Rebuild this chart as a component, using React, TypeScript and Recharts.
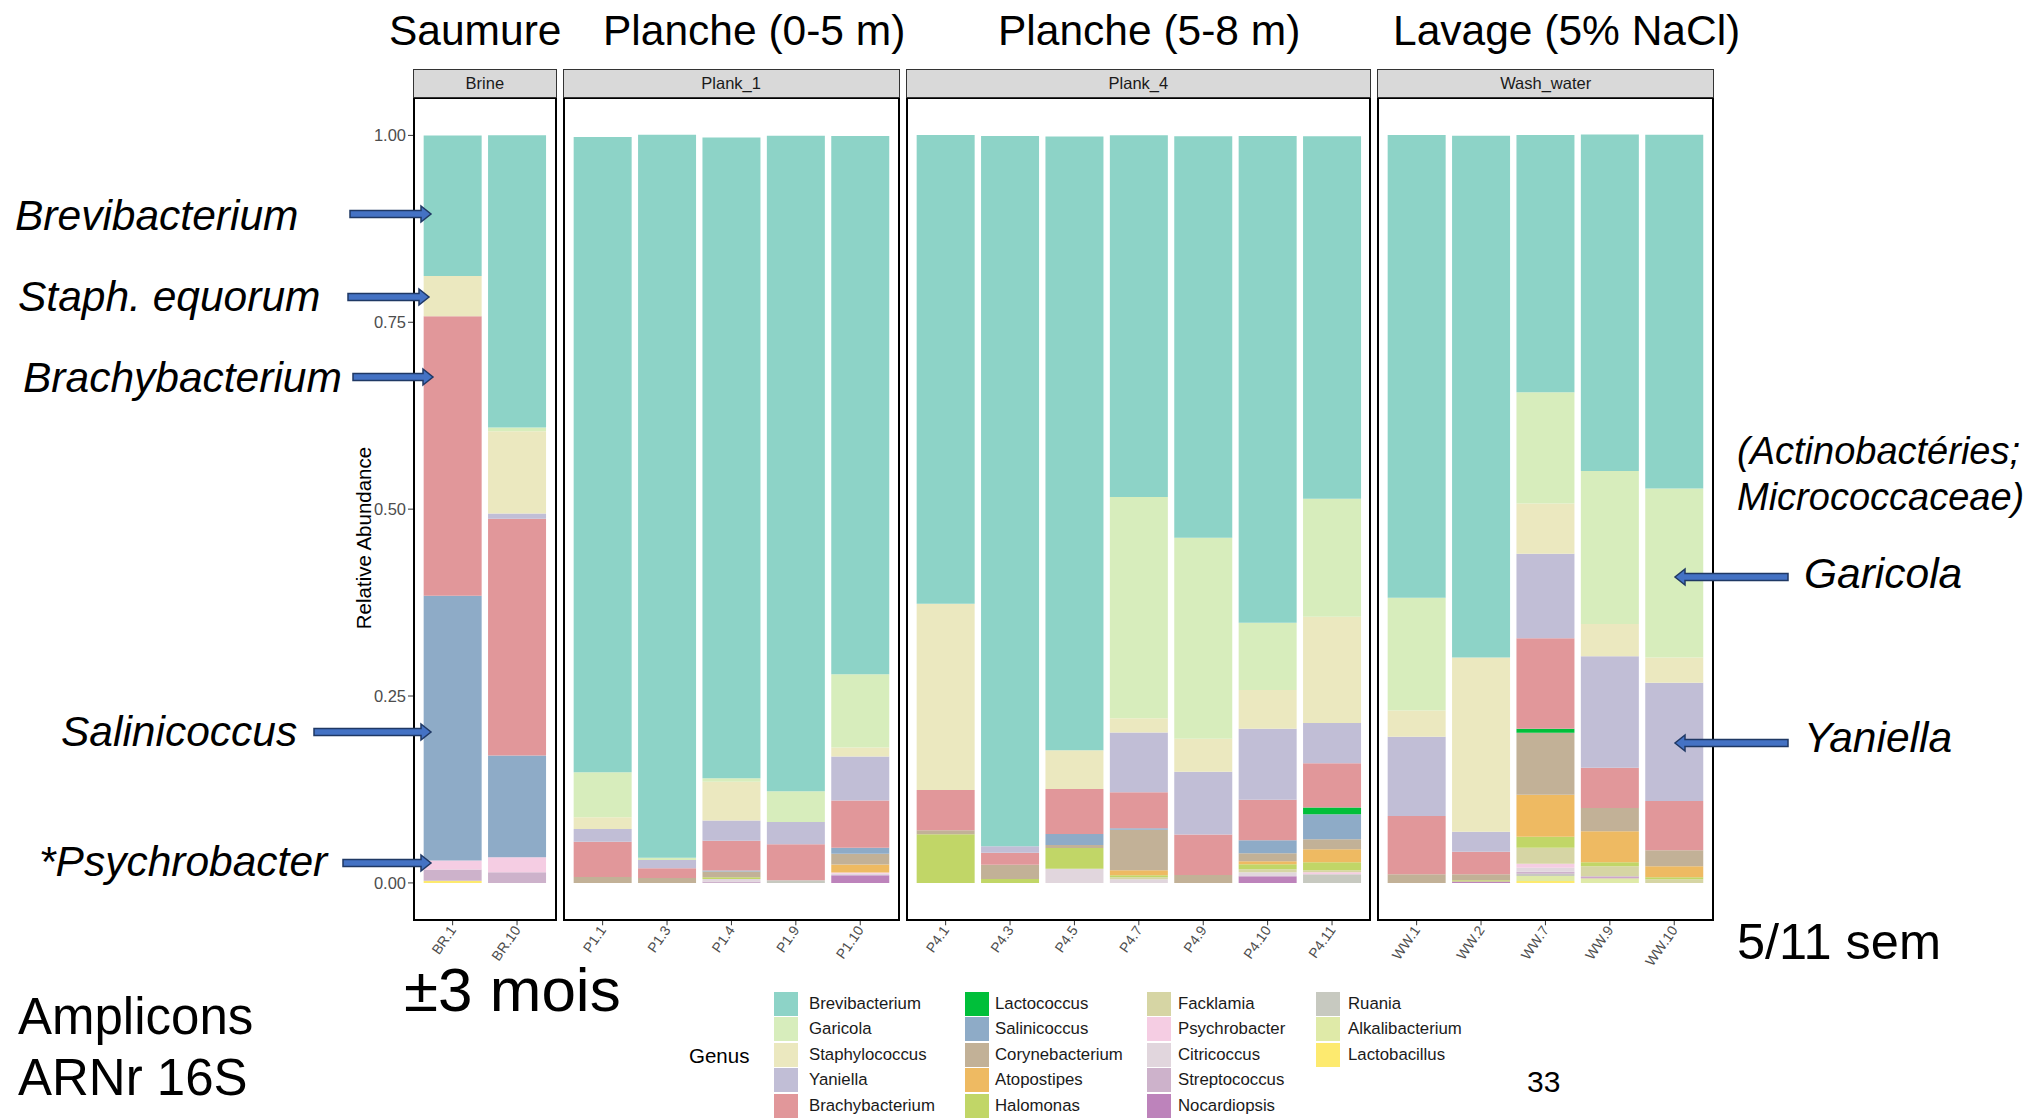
import React from 'react';
import { BarChart, Bar, XAxis, YAxis } from 'recharts';

// genus order = legend order (first one sits on top of each stack)
const genera = [
  'Brevibacterium', 'Garicola', 'Staphylococcus', 'Yaniella', 'Brachybacterium',
  'Lactococcus', 'Salinicoccus', 'Corynebacterium', 'Atopostipes', 'Halomonas',
  'Facklamia', 'Psychrobacter', 'Citricoccus', 'Streptococcus', 'Nocardiopsis',
  'Ruania', 'Alkalibacterium', 'Lactobacillus',
];
const genusColors = [
  '#8dd3c7', '#d7edbc', '#ebe8bf', '#c1bed6', '#e1979a',
  '#00bf3a', '#8eabc7', '#c2b197', '#eeba62', '#c1d667',
  '#d6d5a4', '#f5cde3', '#e1d6dd', '#cdb2cb', '#bd83bb',
  '#c7c9c0', '#dfeaa8', '#fdea6f',
];

const samples = [
  'BR.1', 'BR.10',
  'P1.1', 'P1.3', 'P1.4', 'P1.9', 'P1.10',
  'P4.1', 'P4.3', 'P4.5', 'P4.7', 'P4.9', 'P4.10', 'P4.11',
  'WW.1', 'WW.2', 'WW.7', 'WW.9', 'WW.10',
];
const panelNames = ['Brine', 'Plank_1', 'Plank_4', 'Wash_water'];
const panelSamples = [
  ['BR.1', 'BR.10'],
  ['P1.1', 'P1.3', 'P1.4', 'P1.9', 'P1.10'],
  ['P4.1', 'P4.3', 'P4.5', 'P4.7', 'P4.9', 'P4.10', 'P4.11'],
  ['WW.1', 'WW.2', 'WW.7', 'WW.9', 'WW.10'],
];
const yTicks = [0, 0.25, 0.5, 0.75, 1];

// relative abundance per genus, in the order of `samples`
const brevibacterium = [0.188, 0.391, 0.850, 0.967, 0.857, 0.877, 0.720, 0.627, 0.950, 0.821, 0.484, 0.537, 0.651, 0.485, 0.619, 0.698, 0.344, 0.450, 0.473];
const garicola = [0, 0.005, 0.060, 0.003, 0.0045, 0.041, 0.098, 0, 0, 0, 0.296, 0.269, 0.090, 0.158, 0.151, 0, 0.149, 0.205, 0.226];
const staphylococcus = [0.054, 0.110, 0.016, 0, 0.052, 0, 0.012, 0.249, 0, 0.052, 0.019, 0.044, 0.052, 0.142, 0.035, 0.233, 0.067, 0.043, 0.034];
const yaniella = [0, 0.007, 0.017, 0.011, 0.027, 0.030, 0.059, 0, 0.009, 0, 0.080, 0.084, 0.095, 0.054, 0.106, 0.027, 0.113, 0.149, 0.158];
const brachybacterium = [0.374, 0.317, 0.047, 0.013, 0.040, 0.048, 0.063, 0.054, 0.016, 0.060, 0.048, 0.054, 0.054, 0.059, 0.078, 0.030, 0.121, 0.054, 0.066];
const lactococcus = [0, 0, 0, 0, 0, 0, 0, 0, 0, 0, 0, 0, 0, 0.009, 0, 0, 0.0054, 0, 0];
const salinicoccus = [0.354, 0.136, 0, 0, 0.0013, 0, 0.008, 0, 0, 0.0147, 0.0022, 0, 0.0174, 0.0335, 0, 0, 0, 0, 0];
const corynebacterium = [0, 0, 0.008, 0.0067, 0.0076, 0, 0.0143, 0.0054, 0.0188, 0.004, 0.054, 0.0107, 0.0107, 0.0134, 0.0116, 0.008, 0.083, 0.031, 0.0214];
const atopostipes = [0, 0, 0, 0, 0, 0, 0.0107, 0, 0, 0, 0.0067, 0, 0.004, 0.0174, 0, 0, 0.0563, 0.0415, 0.0147];
const halomonas = [0, 0, 0, 0, 0.0022, 0, 0, 0.065, 0.0054, 0.028, 0.0027, 0, 0.0067, 0.0107, 0, 0.0018, 0.0147, 0.0054, 0.0027];
const facklamia = [0, 0, 0, 0, 0, 0, 0, 0, 0, 0, 0.0027, 0, 0.004, 0.0027, 0, 0, 0.0214, 0.0134, 0.0049];
const psychrobacter = [0.012, 0.020, 0, 0, 0, 0, 0.0018, 0, 0, 0, 0, 0, 0, 0.0027, 0, 0, 0.0054, 0, 0];
const citricoccus = [0, 0, 0, 0, 0.0036, 0, 0.002, 0, 0, 0.0188, 0.0049, 0, 0.0054, 0, 0, 0, 0.0054, 0, 0];
const streptococcus = [0.015, 0.0143, 0, 0, 0.0018, 0, 0, 0, 0, 0, 0, 0, 0, 0, 0, 0, 0.0027, 0.0013, 0];
const nocardiopsis = [0, 0, 0, 0, 0, 0, 0.0103, 0, 0, 0, 0, 0, 0.0089, 0, 0, 0.0018, 0, 0.0013, 0];
const ruania = [0, 0, 0, 0, 0, 0.0036, 0, 0, 0, 0, 0, 0, 0, 0.0116, 0, 0, 0.0027, 0, 0];
const alkalibacterium = [0, 0, 0, 0, 0, 0, 0, 0, 0, 0, 0, 0, 0, 0, 0, 0, 0.0067, 0.0063, 0];
const lactobacillus = [0.003, 0, 0, 0, 0, 0, 0, 0, 0, 0, 0, 0, 0, 0, 0, 0, 0.0027, 0, 0];

const series = [
  brevibacterium, garicola, staphylococcus, yaniella, brachybacterium,
  lactococcus, salinicoccus, corynebacterium, atopostipes, halomonas,
  facklamia, psychrobacter, citricoccus, streptococcus, nocardiopsis,
  ruania, alkalibacterium, lactobacillus,
];

// layout (px)
const U = 64.4;            // width of one sample slot
const PLOT_TOP = 97.7;
const PLOT_H = 822.3;
const STRIP_TOP = 69.3;
const STRIP_H = 28.4;
const FIRST_LEFT = 414;
const PANEL_GAP = 8;
const Y_AXIS_W = 60;
const X_AXIS_H = 80;
const FONT = '"Liberation Sans", Arial, Helvetica, sans-serif';

const rowsFor = (names: string[]) =>
  names.map((name) => {
    const idx = samples.indexOf(name);
    const row: any = { name };
    genera.forEach((g, gi) => { row[g] = series[gi][idx]; });
    return row;
  });

const SampleTick = (props: any) => {
  const { x, y, payload } = props;
  return (
    <g transform={`translate(${x},${y})`}>
      <text x={0} y={0} dy={5} textAnchor="end" transform="rotate(-55)"
        fontSize={14} fill="#4d4d4d" fontFamily={FONT}>
        {payload.value}
      </text>
    </g>
  );
};

function Panel({ idx, left }: { idx: number; left: number }) {
  const names = panelSamples[idx];
  const plotW = (names.length + 0.2) * U;
  const withY = idx === 0;
  const chartW = plotW + (withY ? Y_AXIS_W : 0);
  const chartLeft = left - (withY ? Y_AXIS_W : 0);
  const stackOrder = genera.map((g, i) => i).reverse();

  return (
    <>
      <div style={{ position: 'absolute', left: chartLeft, top: PLOT_TOP }}>
        <BarChart width={chartW} height={PLOT_H + X_AXIS_H} data={rowsFor(names)}
          margin={{ top: 0, right: 0, bottom: 0, left: 0 }} barCategoryGap="5%">
          <XAxis dataKey="name" interval={0} tickSize={5} tickLine={{ stroke: '#333' }}
            axisLine={false} height={X_AXIS_H} padding={{ left: 0.1 * U, right: 0.1 * U }}
            tick={<SampleTick />} />
          <YAxis hide={!withY} width={Y_AXIS_W} type="number" domain={[-0.05, 1.05]}
            ticks={yTicks} tickFormatter={(v: number) => v.toFixed(2)} tickSize={6}
            tickLine={{ stroke: '#333' }} axisLine={false}
            tick={{ fontSize: 16.5, fill: '#4d4d4d', fontFamily: FONT }} />
          {stackOrder.map((gi) => (
            <Bar key={genera[gi]} dataKey={genera[gi]} stackId="a" fill={genusColors[gi]}
              isAnimationActive={false} />
          ))}
        </BarChart>
      </div>
      <div style={{
        position: 'absolute', left: left - 1, top: PLOT_TOP - 1, width: plotW + 2, height: PLOT_H + 2,
        border: '2px solid #000', boxSizing: 'border-box', pointerEvents: 'none',
      }} />
      <div style={{
        position: 'absolute', left: left - 1, top: STRIP_TOP, width: plotW + 2, height: STRIP_H,
        background: '#d9d9d9', border: '1px solid #333', boxSizing: 'border-box',
        fontSize: 16.5, color: '#1a1a1a', textAlign: 'center', lineHeight: `${STRIP_H - 2}px`,
      }}>
        {panelNames[idx]}
      </div>
    </>
  );
}

const Arrow = ({ tail, tip, y }: { tail: number; tip: number; y: number }) => {
  const d = tip > tail ? 1 : -1;
  const hb = tip - d * 10;
  const pts = [
    [tail, y - 3.5], [hb, y - 3.5], [hb, y - 8], [tip, y],
    [hb, y + 8], [hb, y + 3.5], [tail, y + 3.5],
  ].map((p) => p.join(',')).join(' ');
  return <polygon points={pts} fill="#4472c4" stroke="#1f3864" strokeWidth={1.5} />;
};

export default function App() {
  const lefts: number[] = [];
  let x = FIRST_LEFT;
  panelSamples.forEach((s) => { lefts.push(x); x += (s.length + 0.2) * U + PANEL_GAP; });

  const legendCols = [774, 965, 1147, 1316];
  const legendText = [809, 995, 1178, 1348];

  return (
    <div style={{ position: 'absolute', left: 0, top: 0, width: 2032, height: 1119, background: '#fff', fontFamily: FONT, overflow: 'hidden' }}>
      {panelNames.map((p, i) => <Panel key={p} idx={i} left={lefts[i]} />)}

      <div style={{
        position: 'absolute', left: 364 - 150, top: 538 - 13, width: 300, height: 26,
        transform: 'rotate(-90deg)', textAlign: 'center', fontSize: 20.5, lineHeight: '26px', color: '#000',
      }}>
        Relative Abundance
      </div>

      {/* legend */}
      <div style={{ position: 'absolute', left: 689, top: 1042, fontSize: 20.5, lineHeight: '28px', color: '#000' }}>Genus</div>
      {genera.map((g, i) => {
        const col = Math.floor(i / 5);
        const row = i % 5;
        const top = 991.7 + row * 25.5;
        return (
          <React.Fragment key={g}>
            <div style={{ position: 'absolute', left: legendCols[col], top, width: 24, height: 24, background: genusColors[i] }} />
            <div style={{ position: 'absolute', left: legendText[col], top, height: 24, lineHeight: '24px', fontSize: 16.8, color: '#1a1a1a', whiteSpace: 'nowrap' }}>{g}</div>
          </React.Fragment>
        );
      })}

      {/* slide annotations */}
      <svg width={2032} height={1119} style={{ position: 'absolute', left: 0, top: 0, pointerEvents: 'none' }} fontFamily={FONT}>
        <g fontSize={42.5} fill="#000">
          <text x={389} y={45}>Saumure</text>
          <text x={603} y={45}>Planche (0-5 m)</text>
          <text x={998} y={45}>Planche (5-8 m)</text>
          <text x={1393} y={45}>Lavage (5% NaCl)</text>
        </g>
        <g fontSize={42.5} fontStyle="italic" fill="#000">
          <text x={15} y={230}>Brevibacterium</text>
          <text x={18} y={311}>Staph. equorum</text>
          <text x={23} y={392}>Brachybacterium</text>
          <text x={61} y={746}>Salinicoccus</text>
          <text x={39} y={876}>*Psychrobacter</text>
          <text x={1804} y={588}>Garicola</text>
          <text x={1804} y={752}>Yaniella</text>
        </g>
        <g fontSize={38} fontStyle="italic" fill="#000">
          <text x={1737} y={464}>(Actinobactéries;</text>
          <text x={1737} y={510}>Micrococcaceae)</text>
        </g>
        <g fill="#000">
          <text x={18} y={1034} fontSize={51}>Amplicons</text>
          <text x={18} y={1095} fontSize={51}>ARNr 16S</text>
          <text x={404} y={1011} fontSize={62}>±3 mois</text>
          <text x={1737} y={959} fontSize={50.5}>5/11 sem</text>
          <text x={1527} y={1092} fontSize={30}>33</text>
        </g>
        <Arrow tail={350} tip={431} y={214} />
        <Arrow tail={348} tip={429} y={297} />
        <Arrow tail={353} tip={433} y={377} />
        <Arrow tail={314} tip={431} y={732} />
        <Arrow tail={343} tip={431} y={863} />
        <Arrow tail={1788} tip={1675} y={577} />
        <Arrow tail={1788} tip={1675} y={743} />
      </svg>
    </div>
  );
}
